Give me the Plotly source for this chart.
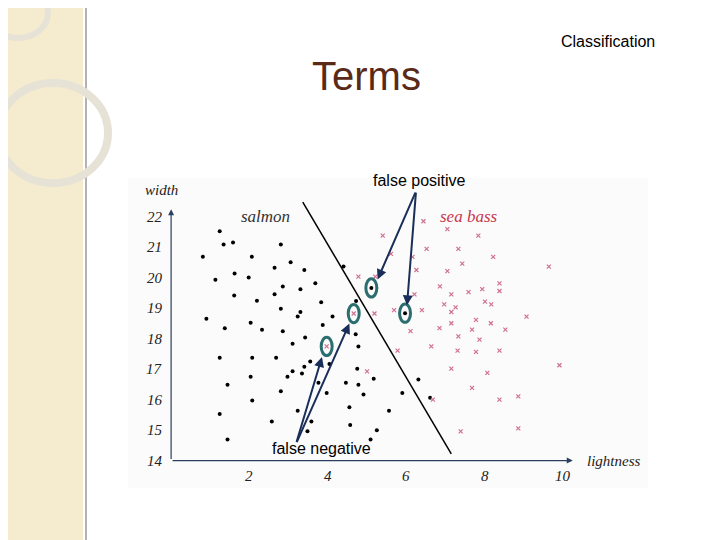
import plotly.graph_objects as go

salmon_x = [1.24,1.34,1.58,0.81,2.06,2.80,1.13,1.62,1.98,2.64,3.05,3.40,4.40,1.61,2.19,2.64,2.85,3.30,3.68,2.80,3.83,3.30,3.23,0.90,1.37,2.03,2.32,2.85,4.12,3.87,4.72,3.42,3.10,4.71,4.78,1.24,2.07,2.68,3.55,3.40,3.34,3.10,2.97,2.03,4.04,4.75,1.44,2.80,2.07,3.76,3.97,4.46,4.78,4.91,5.17,6.31,5.90,6.61,5.56,4.55,1.24,3.23,2.57,3.58,3.48,4.57,5.25,5.09,1.44,5.11,5.97]
salmon_y = [21.53,21.1,21.16,20.69,20.69,21.1,19.94,20.14,20.01,20.33,20.51,20.26,20.37,19.42,19.25,19.46,19.72,19.63,19.82,18.99,19.2,18.88,18.73,18.66,18.35,18.53,18.30,18.25,18.73,18.45,19.24,18.04,17.84,18.15,17.75,17.38,17.38,17.38,17.25,17.08,16.86,16.93,16.75,16.75,17.17,17.02,16.49,16.28,15.97,16.56,16.22,16.56,16.49,16.17,16.69,16.66,16.22,16.06,15.64,15.75,15.53,15.64,15.28,15.28,14.96,15.17,15.0,14.69,14.69,19.67,18.84]
bass_x = [6.44,7.05,7.84,5.40,5.61,6.16,6.52,7.33,8.22,6.26,7.05,7.43,9.64,4.78,5.21,6.86,7.15,7.59,7.94,8.38,8.38,6.21,6.97,7.26,7.15,8.01,8.17,5.69,6.40,5.19,9.07,7.78,7.15,8.16,6.85,6.11,7.68,8.53,7.33,7.87,6.64,5.78,7.31,7.78,8.38,7.15,9.91,5.00,8.07,7.68,6.68,8.38,8.86,7.39,8.86,4.66,3.97]
bass_y = [21.86,21.6,21.39,21.39,20.79,20.69,20.95,20.95,20.69,20.26,20.22,20.47,20.37,20.04,20.04,19.72,19.46,19.53,19.63,19.82,19.57,19.46,19.13,19.03,18.88,19.22,19.13,18.94,18.94,18.83,18.73,18.62,18.51,18.51,18.35,18.25,18.30,18.30,18.08,17.97,17.75,17.61,17.61,17.57,17.61,17.02,17.13,16.93,16.88,16.39,16.0,16.0,16.11,14.96,15.06,18.83,17.75]
boundary_x = [3.36, 7.15]
boundary_y = [22.49, 14.22]
circled_x = [5.11, 5.97, 4.66, 3.97]
circled_y = [19.67, 18.84, 18.83, 17.75]
x_ticks = [2, 4, 6, 8, 10]
y_ticks = [14, 15, 16, 17, 18, 19, 20, 21, 22]

XR = [-1.1, 12.17]
YR = [13.1, 23.28]

fig = go.Figure()
fig.add_trace(go.Scatter(x=boundary_x, y=boundary_y, mode="lines",
                         line=dict(color="black", width=1.5), showlegend=False))
fig.add_trace(go.Scatter(x=salmon_x, y=salmon_y, mode="markers",
                         marker=dict(color="black", size=4), showlegend=False))
fig.add_trace(go.Scatter(x=bass_x, y=bass_y, mode="markers",
                         marker=dict(color="#d98aa0", size=4, symbol="x-thin",
                                     line=dict(color="#d07090", width=1.2)), showlegend=False))

shapes = [
    dict(type="rect", xref="paper", yref="paper", x0=0, x1=75/720, y0=0, y1=1,
         fillcolor="#f5ecd0", line=dict(width=0), layer="below"),
    dict(type="line", xref="paper", yref="paper", x0=78/720, x1=78/720, y0=0, y1=1,
         line=dict(color="#9a9a9a", width=1.5), layer="below"),
    dict(type="circle", xref="paper", yref="paper", x0=-10/720, x1=100/720,
         y0=1-175/540, y1=1-75/540, line=dict(color="#e6e2d6", width=8), layer="below"),
    dict(type="circle", xref="paper", yref="paper", x0=-20/720, x1=40/720,
         y0=1-30/540, y1=1-(-20)/540, line=dict(color="#e6e2d6", width=6), layer="below"),
    dict(type="rect", xref="paper", yref="paper", x0=120/720, x1=640/720,
         y0=1-480/540, y1=1-170/540, fillcolor="#fbfbfb", line=dict(width=0), layer="below"),
]
for cx, cy in zip(circled_x, circled_y):
    shapes.append(dict(type="circle", xref="x", yref="y", x0=cx-0.14, x1=cx+0.14,
                       y0=cy-0.3, y1=cy+0.3, line=dict(color="#2c6e70", width=3)))
fig.update_layout(shapes=shapes)

serif = dict(family="Liberation Serif", size=15, color="#222")
ann = []
ann.append(dict(x=10.25, y=14, ax=0, ay=14, xref="x", yref="y", axref="x", ayref="y",
                showarrow=True, arrowhead=2, arrowwidth=1.2, text=""))
ann.append(dict(x=0, y=22.25, ax=0, ay=14, xref="x", yref="y", axref="x", ayref="y",
                showarrow=True, arrowhead=2, arrowwidth=1.2, text=""))
for t in x_ticks:
    ann.append(dict(x=t, y=13.5, xref="x", yref="y", text=f"<i>{t}</i>", showarrow=False, font=serif))
for t in y_ticks:
    ann.append(dict(x=-0.42, y=t, xref="x", yref="y", text=f"<i>{t}</i>", showarrow=False, font=serif))
ann.append(dict(x=11.3, y=14, xref="x", yref="y", text="<i>lightness</i>", showarrow=False, font=serif))
ann.append(dict(x=-0.25, y=22.9, xref="x", yref="y", text="<i>width</i>", showarrow=False, font=serif))
ann.append(dict(x=2.4, y=22.0, xref="x", yref="y", text="<i>salmon</i>", showarrow=False,
                font=dict(family="Liberation Serif", size=17, color="#333")))
ann.append(dict(x=7.6, y=22.0, xref="x", yref="y", text="<i>sea bass</i>", showarrow=False,
                font=dict(family="Liberation Serif", size=17, color="#c8374f")))
arrow = dict(xref="x", yref="y", axref="x", ayref="y", showarrow=True, arrowhead=2,
             arrowwidth=2, arrowcolor="#1a2e5a", text="")
ann.append(dict(arrow, x=5.27, y=19.95, ax=6.25, ay=22.85))
ann.append(dict(arrow, x=6.02, y=19.1, ax=6.25, ay=22.85))
ann.append(dict(arrow, x=3.85, y=17.4, ax=3.19, ay=14.56))
ann.append(dict(arrow, x=4.55, y=18.5, ax=3.19, ay=14.56))
ann.append(dict(x=6.35, y=23.2, xref="x", yref="y", text="false positive", showarrow=False,
                xanchor="center", yanchor="middle",
                font=dict(family="Liberation Sans", size=16, color="black")))
ann.append(dict(x=3.83, y=14.4, xref="x", yref="y", text="false negative", showarrow=False,
                xanchor="center", yanchor="middle",
                font=dict(family="Liberation Sans", size=16, color="black")))
ann.append(dict(x=358/720, y=1-68/540, xref="paper", yref="paper", text="Terms", showarrow=False,
                xanchor="center", yanchor="middle",
                font=dict(family="Liberation Sans", size=40, color="#5a2a17")))
ann.append(dict(x=600/720, y=1-33/540, xref="paper", yref="paper", text="Classification",
                showarrow=False, xanchor="center", yanchor="middle",
                font=dict(family="Liberation Sans", size=16, color="black")))
fig.update_layout(annotations=ann)

fig.update_layout(
    width=720, height=540, margin=dict(l=0, r=0, t=0, b=0),
    paper_bgcolor="white", plot_bgcolor="rgba(0,0,0,0)",
    xaxis=dict(range=XR, domain=[120/720, 640/720], visible=False),
    yaxis=dict(range=YR, domain=[1-480/540, 1-170/540], visible=False),
)
fig.write_html("out.html")
